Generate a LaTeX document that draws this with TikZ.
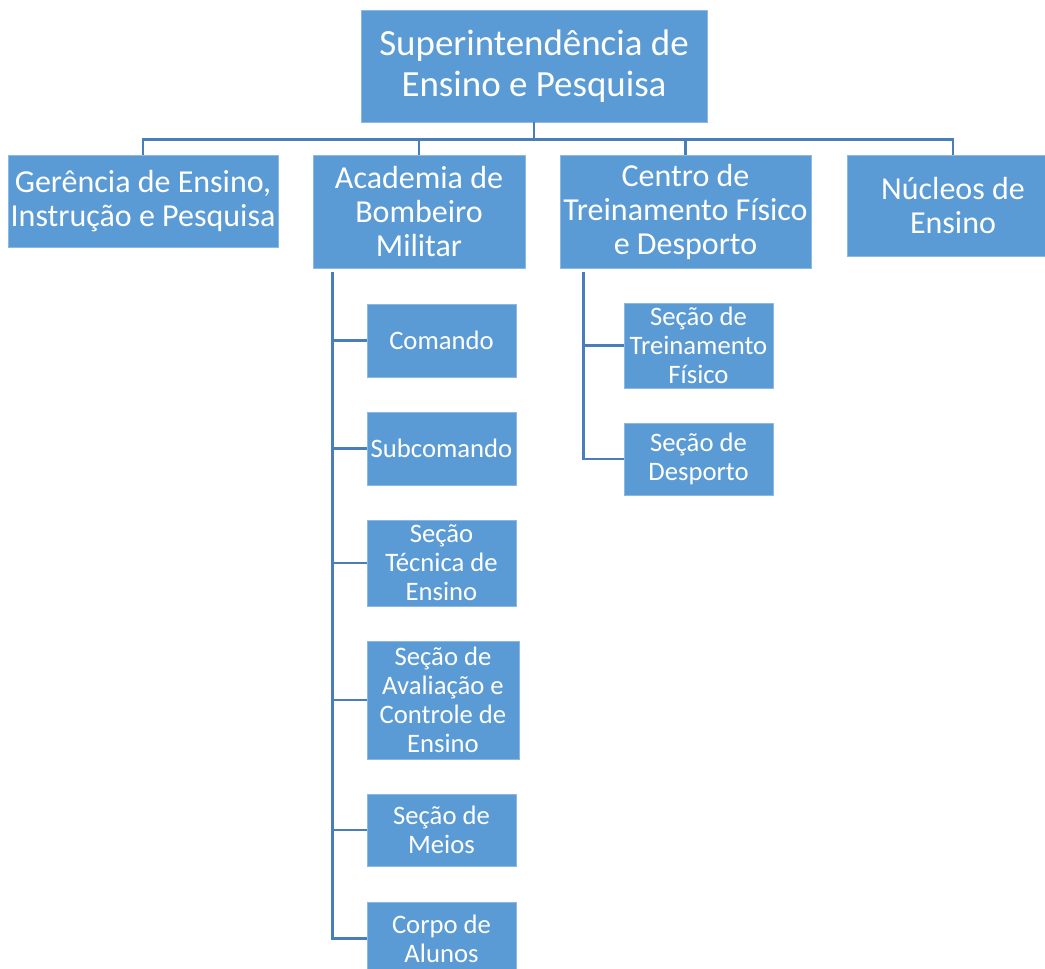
\documentclass[tikz,border=0pt]{standalone}
\usepackage{fontspec}
\setmainfont{Carlito}
\definecolor{boxblue}{HTML}{5B9BD5}
\definecolor{lineblue}{HTML}{4A7EBB}
\tikzset{
  orgbox/.style={fill=boxblue, draw=boxblue!70!white, line width=0.4pt, text=white, align=center, inner sep=0pt},
  topbox/.style={orgbox, font=\fontsize{27.7pt}{30.75pt}\selectfont},
  lvlbox/.style={orgbox, font=\fontsize{24pt}{25.5pt}\selectfont},
  subbox/.style={orgbox, font=\fontsize{20pt}{21.75pt}\selectfont},
  conn/.style={draw=lineblue, line width=2.2pt}
}
\begin{document}
\begin{tikzpicture}[x=0.75pt,y=-0.75pt]
\useasboundingbox[fill=white] (0,0) rectangle (1045,969);
\begin{scope}
\clip (0,0) rectangle (1045,969);
% top
\node[topbox, minimum width=259.5pt, minimum height=84pt] (top) at (534,66) {Superintendência de\\Ensino e Pesquisa};
% level 2
\node[lvlbox, minimum width=202.5pt, minimum height=69pt] (ger) at (143,201) {Gerência de Ensino,\\Instrução e Pesquisa};
\node[lvlbox, minimum width=159pt, minimum height=84.75pt] (aca) at (419,211.5) {Academia de\\Bombeiro\\Militar};
\node[lvlbox, minimum width=188.25pt, minimum height=84.75pt] (cen) at (685.5,211.5) {Centro de\\Treinamento Físico\\e Desporto};
\node[lvlbox, minimum width=159pt, minimum height=75.75pt] (nuc) at (953,205.5) {Núcleos de\\Ensino};
% academia children
\node[subbox, minimum width=111.75pt, minimum height=54.75pt] (com) at (441.5,340.5) {Comando};
\node[subbox, minimum width=111.75pt, minimum height=54.75pt] (sub) at (441.5,448.5) {Subcomando};
\node[subbox, minimum width=111.75pt, minimum height=64.5pt] (tec) at (441.5,563) {Seção\\Técnica de\\Ensino};
\node[subbox, minimum width=114pt, minimum height=88.5pt] (ava) at (443,700) {Seção de\\Avaliação e\\Controle de\\Ensino};
\node[subbox, minimum width=111.75pt, minimum height=54pt] (mei) at (441.5,830) {Seção de\\Meios};
\node[subbox, minimum width=111.75pt, minimum height=54.75pt] (cor) at (441.5,938.5) {Corpo de\\Alunos};
% centro children
\node[subbox, minimum width=111.75pt, minimum height=63.75pt] (tre) at (698.5,345.5) {Seção de\\Treinamento\\Físico};
\node[subbox, minimum width=111.75pt, minimum height=54pt] (des) at (698.5,459) {Seção de\\Desporto};
% connectors level 1-2
\coordinate (bus) at (534,139.5);
\draw[conn] (top.south) -- (top.south |- bus);
\draw[conn] (ger.north) |- (nuc.north |- bus) -- (nuc.north);
\draw[conn] (aca.north) -- (aca.north |- bus);
\draw[conn] (cen.north) -- (cen.north |- bus);
% academia spine
\coordinate (as) at ([xshift=15pt,yshift=-3pt]aca.south west);
\draw[conn] (as) |- (cor.west);
\foreach \n in {com,sub,tec,ava,mei} \draw[conn] (\n.west -| as) -- (\n.west);
% centro spine
\coordinate (cs) at ([xshift=18pt,yshift=-3pt]cen.south west);
\draw[conn] (cs) |- (des.west);
\draw[conn] (tre.west -| cs) -- (tre.west);
\end{scope}
\end{tikzpicture}
\end{document}
